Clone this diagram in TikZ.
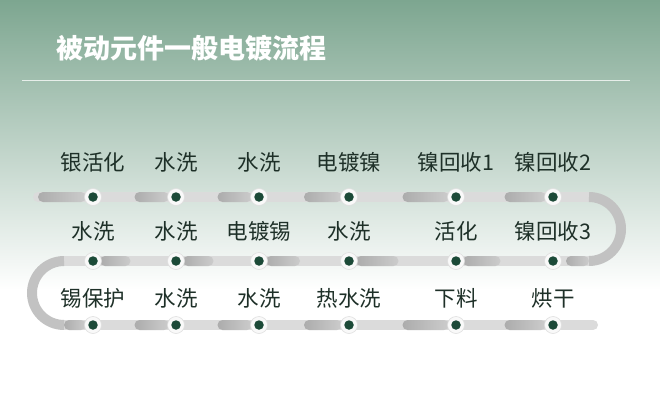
\documentclass[tikz,border=0pt]{standalone}
\usepackage{fontspec}
\newfontfamily\cjk{Noto Sans CJK SC}
\usetikzlibrary{calc}
\definecolor{bgtop}{RGB}{125,166,144}
\definecolor{dotgreen}{RGB}{28,74,56}
\definecolor{labeltext}{RGB}{30,48,40}

\begin{document}
\begin{tikzpicture}[x=1pt,y=-1pt,
  track/.style={line width=10pt,color=gray!28,line cap=round},
  turnarc/.style={line width=10pt,color=gray!48},
  seg/.style={left color=gray!65,right color=gray!40,rounded corners=5pt},
  lbl/.style={font=\cjk\fontsize{21.5}{25}\selectfont,text=labeltext,inner sep=0pt},
  halo/.style={circle,fill=gray!5,draw=gray!25,line width=0.6pt,minimum size=17pt,inner sep=0pt},
  dot/.style={circle,fill=dotgreen,minimum size=9.5pt,inner sep=0pt}]
				\useasboundingbox (0,0) rectangle (660,412);
				\fill[white] (0,0) rectangle (660,412);
				\shade[top color=bgtop,bottom color=white] (0,0) rectangle (660,290);
				\node[anchor=west,inner sep=0pt,text=white,font=\cjk\bfseries\fontsize{27}{32}\selectfont] (title) at (56,48) {被动元件一般电镀流程};
				\draw[white,opacity=.75,line width=1pt] (22,80) -- (630,80);
				% track
				\coordinate (start) at (38,197);
				\coordinate (r1) at (589,197);
				\coordinate (r2) at (589,261);
				\coordinate (l2) at (64,261);
				\coordinate (l3) at (64,325);
				\coordinate (stop) at (593,325);
				\draw[track] (start) -- (r1) (r2) -- (l2) (l3) -- (stop);
				\draw[turnarc] (r1) arc[start angle=-90,end angle=90,radius=32];
				\draw[turnarc] (l2) arc[start angle=270,end angle=90,radius=32];
				\shade[seg] (38,192) rectangle (86,202);
				\shade[seg] (566,256) rectangle (589,266);
				\shade[seg] (64,320) rectangle (86,330);
				\foreach \xa/\xb in {93/176,176/259,259/349,349/456,456/553}{
					\shade[seg] ({(\xa+\xb)/2},192) rectangle (\xb-7,202);
					\shade[seg] (\xa+7,256) rectangle ({(\xa+\xb)/2-4},266);
					\shade[seg] ({(\xa+\xb)/2},320) rectangle (\xb-7,330);
				}
				% stations
				\foreach \x/\ta/\tb/\tc [count=\i] in {93/银活化/水洗/锡保护,176/水洗/水洗/水洗,259/水洗/电镀锡/水洗,349/电镀镍/水洗/热水洗,456/镍回收1/活化/下料,553/镍回收2/镍回收3/烘干}{
					\coordinate (a\i) at (\x,197);
					\coordinate (b\i) at (\x,261);
					\coordinate (c\i) at (\x,325);
					\node[lbl] (la\i) at (\x,162) {\ta};
					\node[lbl] (lb\i) at (\x,231) {\tb};
					\node[lbl] (lc\i) at (\x,298) {\tc};
					\foreach \r in {a,b,c}{
						\node[halo] (h\r\i) at (\r\i) {};
						\node[dot] (d\r\i) at (\r\i) {};
					}
				}
			\end{tikzpicture}
\end{document}
